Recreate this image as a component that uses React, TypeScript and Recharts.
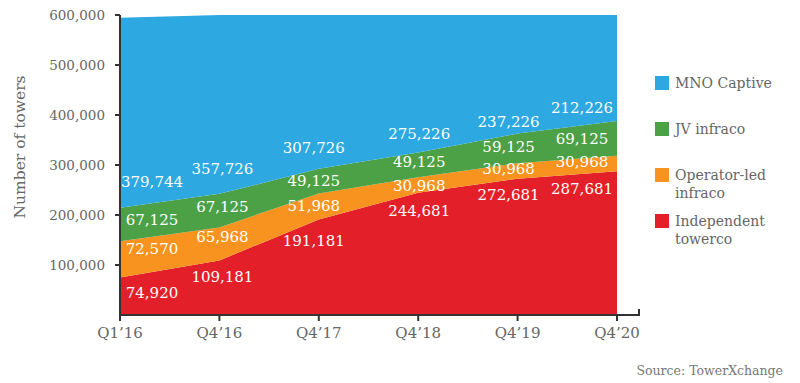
import { AreaChart, Area, XAxis, YAxis, LabelList } from 'recharts';

const quarters = ['Q1\u201916', 'Q4\u201916', 'Q4\u201917', 'Q4\u201918', 'Q4\u201919', 'Q4\u201920'];
const independent = [74920, 109181, 191181, 244681, 272681, 287681];
const operatorLed = [72570, 65968, 51968, 30968, 30968, 30968];
const jvInfraco = [67125, 67125, 49125, 49125, 59125, 69125];
const mnoCaptive = [379744, 357726, 307726, 275226, 237226, 212226];
const yTicks = [100000, 200000, 300000, 400000, 500000, 600000];

const data = quarters.map((q, i) => ({
  quarter: q,
  independent: independent[i],
  operatorLed: operatorLed[i],
  jvInfraco: jvInfraco[i],
  mnoCaptive: mnoCaptive[i],
}));

const FONT = '"DejaVu Serif", serif';
const Y_MAX = 600000;
const PLOT_H = 300;
const pxPerUnit = PLOT_H / Y_MAX;

// label nudges (px) per quarter
const labelDx = [32, 3, -5, 1, -9, -35];
const redDy = [15, 17, 22, 18, 16, 18];
const orangeDy = [-10, -7, 0, 1, -2, -1];
const greenDy = [-4, -4, 0, -3, -1, 1];
const blueDy = [-26, -25, -21, -19, -12, -13];

const legendItems = [
  { label: ['MNO Captive'], color: '#2DA8E0' },
  { label: ['JV infraco'], color: '#4CA147' },
  { label: ['Operator-led', 'infraco'], color: '#F7931E' },
  { label: ['Independent', 'towerco'], color: '#E31F29' },
];

const fmt = (v: number) => v.toLocaleString('en-US');

function makeLabel(mode: 'top' | 'center', dy: number[]) {
  return (props: any) => {
    const { x, y, value, index } = props;
    let ly = y + dy[index];
    if (mode === 'center') ly = y + (value * pxPerUnit) / 2 + dy[index];
    return (
      <text
        x={x + labelDx[index]}
        y={ly}
        fill="#ffffff"
        fontSize={15}
        fontFamily={FONT}
        textAnchor="middle"
        dominantBaseline="central"
      >
        {fmt(value)}
      </text>
    );
  };
}

function LegendBox() {
  return (
    <div
      style={{
        position: 'absolute',
        left: 655,
        top: 74,
        fontFamily: FONT,
        fontSize: 14,
        color: '#666',
      }}
    >
      {legendItems.map((it, i) => (
        <div key={i} style={{ display: 'flex', alignItems: 'flex-start', height: 46 }}>
          <div style={{ width: 14, height: 14, background: it.color, marginTop: 2, marginRight: 6 }} />
          <div style={{ lineHeight: '18px' }}>
            {it.label.map((l, j) => (
              <div key={j}>{l}</div>
            ))}
          </div>
        </div>
      ))}
    </div>
  );
}

export default function App() {
  return (
    <div style={{ position: 'absolute', left: 0, top: 0, width: 800, height: 383, background: '#fff' }}>
      <AreaChart width={800} height={383} data={data} margin={{ top: 15, right: 161, bottom: 38, left: 0 }}>
        <XAxis
          dataKey="quarter"
          padding={{ left: 0, right: 22 }}
          tick={{ fill: '#666', fontSize: 15, fontFamily: FONT }}
          tickLine={{ stroke: '#333', strokeWidth: 2 }}
          axisLine={{ stroke: '#333', strokeWidth: 2 }}
          tickSize={6}
          tickMargin={6}
          height={30}
          interval={0}
        />
        <YAxis
          domain={[0, Y_MAX]}
          ticks={yTicks}
          tickFormatter={fmt}
          width={120}
          tick={{ fill: '#666', fontSize: 13.5, fontFamily: FONT }}
          tickLine={{ stroke: '#333', strokeWidth: 2 }}
          axisLine={{ stroke: '#333', strokeWidth: 2 }}
          tickSize={5}
          tickMargin={10}
          label={() => (
            <text
              transform="translate(20,147) rotate(-90)"
              textAnchor="middle"
              dominantBaseline="central"
              fill="#666"
              fontSize={15.5}
              fontFamily={FONT}
            >
              Number of towers
            </text>
          )}
        />
        <Area
          type="linear"
          dataKey="independent"
          stackId="1"
          stroke="none"
          fill="#E31F29"
          fillOpacity={1}
          isAnimationActive={false}
        >
          <LabelList dataKey="independent" content={makeLabel('top', redDy)} />
        </Area>
        <Area
          type="linear"
          dataKey="operatorLed"
          stackId="1"
          stroke="none"
          fill="#F7931E"
          fillOpacity={1}
          isAnimationActive={false}
        >
          <LabelList dataKey="operatorLed" content={makeLabel('center', orangeDy)} />
        </Area>
        <Area
          type="linear"
          dataKey="jvInfraco"
          stackId="1"
          stroke="none"
          fill="#4CA147"
          fillOpacity={1}
          isAnimationActive={false}
        >
          <LabelList dataKey="jvInfraco" content={makeLabel('center', greenDy)} />
          <LabelList dataKey="mnoCaptive" content={makeLabel('top', blueDy)} />
        </Area>
        <Area
          type="linear"
          dataKey="mnoCaptive"
          stackId="1"
          stroke="none"
          fill="#2DA8E0"
          fillOpacity={1}
          isAnimationActive={false}
        />
      </AreaChart>
      <LegendBox />
      <div style={{ position: 'absolute', left: 638, top: 309, width: 2, height: 7, background: '#333' }} />
      <div
        style={{
          position: 'absolute',
          right: 17,
          top: 363,
          fontFamily: FONT,
          fontSize: 12.5,
          color: '#777',
        }}
      >
        Source: TowerXchange
      </div>
    </div>
  );
}
